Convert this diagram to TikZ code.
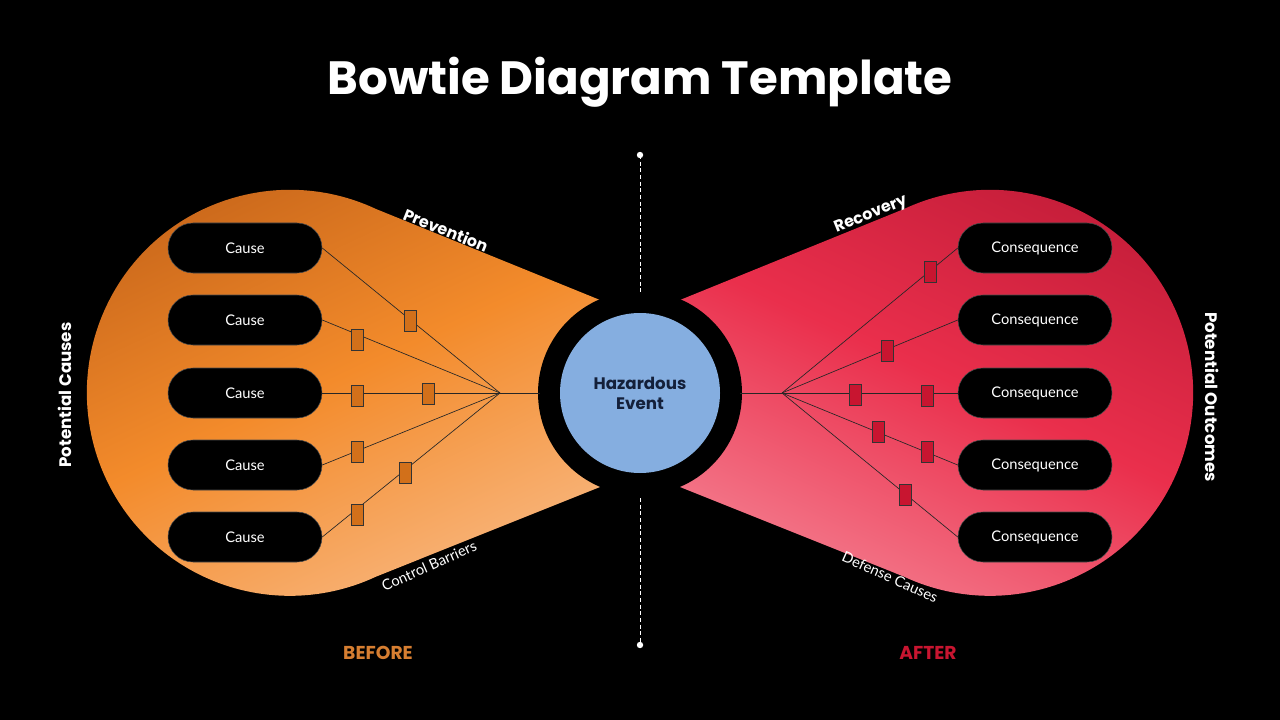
\documentclass[tikz,border=0pt]{standalone}
\usepackage{fontspec}
\setmainfont{Lato}
\newfontfamily\pop{Poppins}
\begin{document}
\begin{tikzpicture}[x=0.75pt,y=-0.75pt,
  pill/.style={fill=black,draw=black!70!white,line width=0.4pt,rounded corners=25*0.75pt,minimum width=154*0.75pt,minimum height=50*0.75pt,text=white,font=\fontsize{11}{12}\selectfont},
  lbox/.style={draw=black!80,line width=0.5pt,fill=#1,minimum width=9pt,minimum height=16pt,inner sep=0pt},
  ln/.style={draw=black!85,line width=0.5pt},
  lab/.style={text=white,font=\fontsize{11}{13}\selectfont},
  blab/.style={text=white,font=\pop\bfseries\fontsize{12}{14}\selectfont}]
\definecolor{oD}{HTML}{C8661A}\definecolor{oM}{HTML}{F38B2B}\definecolor{oL}{HTML}{F8B47A}
\definecolor{rD}{HTML}{C21C38}\definecolor{rM}{HTML}{EA2F4C}\definecolor{rL}{HTML}{F47A8C}
\definecolor{obox}{HTML}{D2701A}\definecolor{rbox}{HTML}{C81530}
\definecolor{hz}{HTML}{85AEE0}\definecolor{navy}{HTML}{14203A}
\fill[black] (0,0) rectangle (1280,720);
\useasboundingbox (0,0) rectangle (1280,720);
% left shape
\path[top color=oD,bottom color=oL,middle color=oM,shading angle=25]
 (376,209) arc[start angle=-64.9,end angle=-295.1,radius=203] -- (600,487) -- (600,300) -- cycle;
% right shape
\path[top color=rD,bottom color=rL,middle color=rM,shading angle=-25]
 (904,209) arc[start angle=244.9,end angle=475.1,radius=203] -- (680,487) -- (680,300) -- cycle;
\fill[black] (640,393) circle[radius=102];
\node[circle,fill=hz,minimum size=160*0.75pt,inner sep=0pt,align=center,text=navy,font=\pop\bfseries\fontsize{12.5}{15}\selectfont] (hz) at (640,393) {Hazardous\\Event};
% dashed axis
\coordinate (t1) at (640,155); \coordinate (t2) at (640,292);
\coordinate (b1) at (640,498); \coordinate (b2) at (640,645);
\draw[white,dashed,line width=0.6pt,dash pattern=on 3pt off 2pt] (t1)--(t2) (b1)--(b2);
\fill[white] (t1) circle[radius=3.2] (b2) circle[radius=3.2];
% left
\coordinate (lj) at (500,393);
\coordinate (lr) at (540,393);
\foreach \i/\y in {1/248,2/320,3/393,4/465,5/537}{
  \node[pill] (c\i) at (245,\y) {Cause};
  \draw[ln] (c\i.east) -- (lj);
}
\draw[ln] (lj)--(lr);
\foreach \n/\x/\y in {a/410/321,b/357/340,c/357/396,d/428/394,e/357/452,f/357/515,g/405/473}
  \node[lbox=obox] (lb\n) at (\x,\y) {};
% right
\coordinate (rj) at (782,393);
\coordinate (rl) at (740,393);
\foreach \i/\y in {1/248,2/320,3/393,4/465,5/537}{
  \node[pill] (q\i) at (1035,\y) {Consequence};
  \draw[ln] (q\i.west) -- (rj);
}
\draw[ln] (rj)--(rl);
\foreach \n/\x/\y in {a/930/272,b/887/351,c/855/395,d/927/396,e/878/432,f/927/452,g/905/495}
  \node[lbox=rbox] (rb\n) at (\x,\y) {};
% labels
\node[text=white,font=\pop\bfseries\fontsize{35}{38}\selectfont] (title) at (640,82) {Bowtie Diagram Template};
\node[blab,rotate=-22] (prev) at (446,230) {Prevention};
\node[blab,rotate=22] (rec) at (871,215) {Recovery};
\node[lab,rotate=24] (cb) at (429,566) {Control Barriers};
\node[lab,rotate=-24] (dc) at (890,577) {Defense Causes};
\node[blab,rotate=90,font=\pop\bfseries\fontsize{12.5}{14}\selectfont] (pc) at (65,395) {Potential Causes};
\node[blab,rotate=-90,font=\pop\bfseries\fontsize{12.5}{14}\selectfont] (po) at (1212,397) {Potential Outcomes};
\node[text=obox!90!white,font=\pop\bfseries\fontsize{14}{16}\selectfont] (bef) at (378,653) {BEFORE};
\node[text=rbox,font=\pop\bfseries\fontsize{14}{16}\selectfont] (aft) at (928,653) {AFTER};
\end{tikzpicture}
\end{document}
